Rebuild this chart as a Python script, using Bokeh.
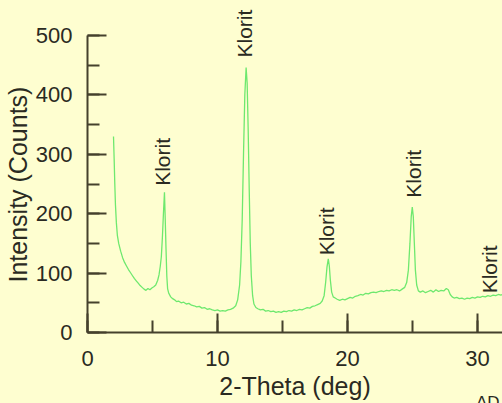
import math
from bokeh.plotting import figure
from bokeh.models import ColumnDataSource, LabelSet, Title, SingleIntervalTicker, Range1d
from bokeh.core.properties import value
from bokeh.embed import file_html
from bokeh.resources import INLINE

# ---- data ----
two_theta = [2.00, 2.05, 2.10, 2.15, 2.22, 2.30, 2.40, 2.55, 2.70, 2.85, 3.00, 3.15, 3.30, 3.45, 3.60,
             3.75, 3.90, 4.05, 4.20, 4.35, 4.50, 4.65, 4.80, 4.95, 5.10, 5.25, 5.40, 5.50, 5.60, 5.68,
             5.76, 5.84, 5.92, 5.98, 6.04, 6.10, 6.16, 6.25, 6.40, 6.55, 6.70, 6.85, 7.00, 7.20, 7.40,
             7.60, 7.80, 8.00, 8.20, 8.40, 8.60, 8.80, 9.00, 9.20, 9.40, 9.60, 9.80, 10.00, 10.20, 10.40,
             10.60, 10.80, 11.00, 11.20, 11.40, 11.55, 11.70, 11.80, 11.90, 12.00, 12.10, 12.20, 12.28,
             12.36, 12.44, 12.52, 12.60, 12.70, 12.80, 12.95, 13.10, 13.30, 13.50, 13.70, 13.90, 14.10,
             14.30, 14.50, 14.70, 14.90, 15.10, 15.30, 15.50, 15.70, 15.90, 16.10, 16.30, 16.50, 16.70,
             16.90, 17.10, 17.30, 17.50, 17.70, 17.90, 18.05, 18.20, 18.32, 18.42, 18.52, 18.60, 18.68,
             18.78, 18.90, 19.05, 19.20, 19.40, 19.60, 19.80, 20.00, 20.20, 20.40, 20.60, 20.80, 21.00,
             21.20, 21.40, 21.60, 21.80, 22.00, 22.20, 22.40, 22.60, 22.80, 23.00, 23.20, 23.40, 23.60,
             23.80, 24.00, 24.20, 24.40, 24.55, 24.68, 24.80, 24.90, 24.98, 25.06, 25.14, 25.22, 25.32,
             25.45, 25.60, 25.80, 26.00, 26.20, 26.40, 26.60, 26.80, 27.00, 27.20, 27.40, 27.60, 27.75,
             27.90, 28.05, 28.20, 28.40, 28.60, 28.80, 29.00, 29.20, 29.40, 29.60, 29.80, 30.00, 30.20,
             30.40, 30.60, 30.80, 31.00, 31.20, 31.40, 31.60, 31.80, 32.00]
counts = [330, 292, 250, 215, 185, 163, 150, 137, 126, 118, 112, 106, 101, 96, 91,
          87, 83, 79, 76, 73, 71, 74, 72, 75, 77, 80, 88, 97, 112, 128,
          160, 200, 236, 190, 140, 95, 74, 66, 60, 57, 55, 52, 53, 50, 51,
          48, 49, 46, 45, 43, 44, 41, 42, 39, 40, 38, 37, 38, 36, 37,
          36, 38, 39, 41, 45, 55, 80, 120, 190, 300, 400, 446, 420,
          340, 240, 150, 95, 62, 48, 42, 40, 38, 39, 36, 37, 35,
          36, 34, 35, 34, 36, 35, 37, 36, 38, 37, 39, 38, 40,
          42, 41, 44, 45, 47, 49, 53, 62, 85, 110, 124, 112, 88,
          68, 60, 58, 56, 54, 56, 55, 57, 59, 58, 61, 62, 64,
          63, 66, 65, 67, 68, 67, 69, 70, 69, 71, 70, 72, 71,
          72, 70, 73, 76, 84, 105, 150, 195, 211, 195, 150, 105, 80,
          70, 68, 70, 67, 69, 71, 68, 72, 69, 71, 70, 74, 72,
          64, 60, 58, 59, 57, 58, 56, 58, 57, 59, 58, 60, 59,
          61, 60, 62, 61, 63, 62, 64, 63, 65]

peak_names = ["Klorit", "Klorit", "Klorit", "Klorit", "Klorit"]
peak_pos = [5.80, 12.08, 18.35, 25.04, 30.95]
peak_label_base = [247, 463, 130, 227, 66]

x_ticks_major = 10
y_ticks_major = 100

BG = "#FEFED0"
AXIS_C = "#45412c"
TEXT_C = "#2a2a22"
FONT = "Liberation Sans"

p = figure(width=502, height=403, output_backend="svg", toolbar_location=None,
           x_range=Range1d(0, 31.92), y_range=Range1d(0, 559),
           min_border_left=87, min_border_right=0, min_border_top=0, min_border_bottom=71,
           background_fill_color=BG, border_fill_color=BG, outline_line_color=None)

p.xgrid.visible = False
p.ygrid.visible = False

p.line(two_theta, counts, line_color="#6ee86e", line_width=1.3)

src = ColumnDataSource(dict(x=peak_pos, y=peak_label_base, t=peak_names))
labels = LabelSet(x="x", y="y", text="t", source=src, angle=math.pi / 2,
                  text_align="left", text_baseline="middle",
                  text_font=value(FONT), text_font_size=value("21px"), text_color=TEXT_C)
p.add_layout(labels)

for ax, interval in ((p.xaxis[0], x_ticks_major), (p.yaxis[0], y_ticks_major)):
    ax.ticker = SingleIntervalTicker(interval=interval, num_minor_ticks=2)
    ax.axis_line_color = AXIS_C
    ax.axis_line_width = 2
    ax.major_tick_line_color = AXIS_C
    ax.major_tick_line_width = 2
    ax.minor_tick_line_color = AXIS_C
    ax.minor_tick_line_width = 2
    ax.major_tick_in = 19
    ax.major_tick_out = 0
    ax.minor_tick_in = 12
    ax.minor_tick_out = 0
    ax.major_label_text_font = FONT
    ax.major_label_text_font_size = "22px"
    ax.major_label_text_color = TEXT_C
    ax.axis_label_text_font = FONT
    ax.axis_label_text_font_size = "25px"
    ax.axis_label_text_font_style = "normal"
    ax.axis_label_text_color = TEXT_C

p.xaxis.axis_label = "2-Theta (deg)"
p.xaxis.major_label_standoff = 18
p.yaxis.major_label_standoff = 15
p.xaxis.axis_label_standoff = 3
p.yaxis.bounds = (0, 500)

# y-axis title, centred on the 0-500 span of the axis
p.add_layout(Title(text="Intensity (Counts)", align="left", offset=50, standoff=2,
                   vertical_align="bottom", text_font=FONT, text_font_size="25px",
                   text_font_style="normal", text_color=TEXT_C), "left")

# clipped corner caption
p.add_layout(Title(text="AD", align="right", offset=3, standoff=-20, vertical_align="top",
                   text_font=FONT, text_font_size="17px", text_font_style="normal",
                   text_color=TEXT_C), "below")

html = file_html(p, INLINE)
html = html.replace("<head>", "<head><style>html,body{background:" + BG + ";}</style>", 1)
open("out.html", "w").write(html)
